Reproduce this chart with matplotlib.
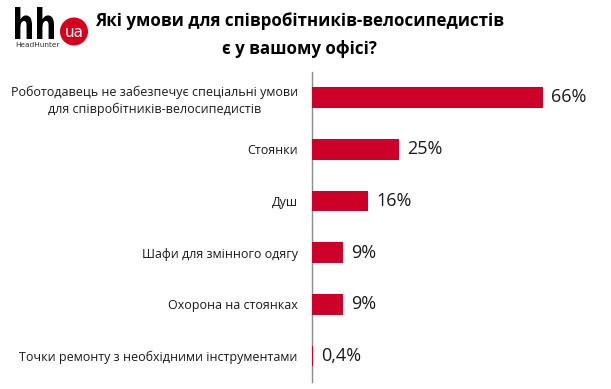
import matplotlib.pyplot as plt
from matplotlib.font_manager import FontProperties
from matplotlib.patches import Circle, PathPatch
from matplotlib.textpath import TextPath
from matplotlib.transforms import Affine2D

plt.rcParams["font.family"] = ["Open Sans", "DejaVu Sans"]

CATEGORIES = [
    "Роботодавець не забезпечує спеціальні умови\nдля співробітників-велосипедистів",
    "Стоянки",
    "Душ",
    "Шафи для змінного одягу",
    "Охорона на стоянках",
    "Точки ремонту з необхідними інструментами",
]
VALUES = [66, 25, 16, 9, 9, 0.4]
VALUE_LABELS = ["66%", "25%", "16%", "9%", "9%", "0,4%"]

TITLE = "Які умови для співробітників-велосипедистів\nє у вашому офісі?"
RED = "#cc0029"
LOGO_RED = "#d6001c"

fig = plt.figure(figsize=(6.11, 3.89), dpi=100)
ax = fig.add_axes([0.510, 0.018, 0.490, 0.798])

y = list(range(len(CATEGORIES)))
ax.barh(y, VALUES, height=0.4, color=RED, linewidth=0, zorder=3)
ax.set_ylim(len(CATEGORIES) - 0.5, -0.5)
ax.set_xlim(0, 85.5)

ax.set_yticks(y)
ax.set_yticklabels(CATEGORIES, fontsize=9, color="#1a1a1a", ha="right",
                   multialignment="center", linespacing=1.35)
ax.tick_params(axis="y", length=0, pad=10)
ax.set_xticks([])

for side in ("top", "right", "bottom"):
    ax.spines[side].set_visible(False)
ax.spines["left"].set_color("#8c8c8c")
ax.spines["left"].set_linewidth(1.0)

for yi, v, lab in zip(y, VALUES, VALUE_LABELS):
    ax.annotate(lab, (v, yi), textcoords="offset points", xytext=(6, 0),
                ha="left", va="center", fontsize=13, color="#1a1a1a")

# title
fig.text(0.49, 0.91, TITLE, ha="center", va="center", fontsize=12.2,
         fontweight="bold", color="#000000", linespacing=1.65)

# logo, drawn on an overlay in pixel units
lg = fig.add_axes([0, 0, 1, 1], zorder=5)
lg.set_xlim(0, 611)
lg.set_ylim(389, 0)
lg.axis("off")

tp = TextPath((0, 0), "hh", size=1,
              prop=FontProperties(family="DejaVu Sans", weight="bold"))
ext = tp.get_extents()
x0, x1, y0, y1 = 15, 54, 7, 39
tr = (Affine2D().translate(-ext.x0, -ext.y0)
      .scale((x1 - x0) / ext.width, -(y1 - y0) / ext.height)
      .translate(x0, y1))
lg.add_patch(PathPatch(tr.transform_path(tp), color="black", lw=0))

lg.add_patch(Circle((74, 31.5), 14, color=LOGO_RED, ec="none"))
lg.text(74, 32, "ua", ha="center", va="center", fontsize=11,
        color="white", family="DejaVu Sans")
lg.text(15, 44.5, "HeadHunter", ha="left", va="center", fontsize=5.3,
        color="#333333", family="DejaVu Sans")

fig.savefig("out.png", dpi=100)
